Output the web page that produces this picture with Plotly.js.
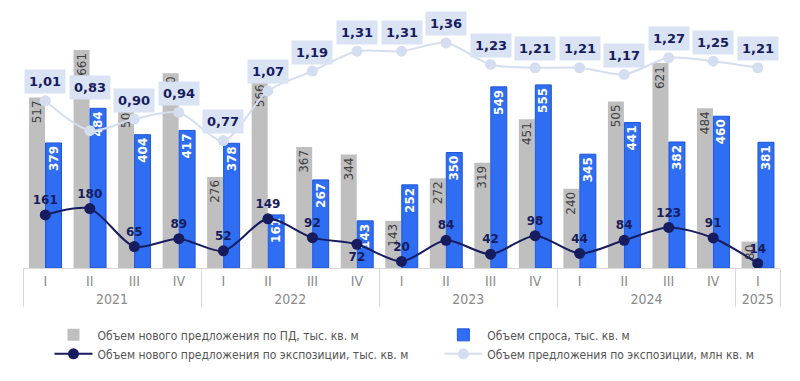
<!DOCTYPE html>
<html>
<head>
<meta charset="utf-8">
<script src="https://cdn.plot.ly/plotly-3.0.1.min.js"></script>
<style>html,body{margin:0;padding:0;background:#fff;}#chart{width:800px;height:381px;}</style>
</head>
<body>
<div id="chart"></div>
<script>
const years = ['2021','2021','2021','2021','2022','2022','2022','2022','2023','2023','2023','2023','2024','2024','2024','2024','2025'];
const quarters = ['I','II','III','IV','I','II','III','IV','I','II','III','IV','I','II','III','IV','I'];
const supplyPD = [517,661,503,590,276,566,367,344,143,272,319,451,240,505,621,484,80];
const demand = [379,484,404,417,378,161,267,143,252,350,549,555,345,441,382,460,381];
const newExpo = [161,180,65,89,52,149,92,72,20,84,42,98,44,84,123,91,14];
const expoStock = [1.01,0.83,0.90,0.94,0.77,1.07,1.19,1.31,1.31,1.36,1.23,1.21,1.21,1.17,1.27,1.25,1.21];
const seriesNames = [
  'Объем нового предложения по ПД, тыс. кв. м',
  'Объем спроса, тыс. кв. м',
  'Объем нового предложения по экспозиции, тыс. кв. м',
  'Объем предложения по экспозиции, млн кв. м'
];

const x = [years, quarters];
const navy = '#161c5e';
const lightLine = '#d5def0';
const fmt = v => v.toFixed(2).replace('.', ',');

const navyPos = newExpo.map((v, i) => i === 7 ? 'bottom center' : 'top center');
const stockShift = expoStock.map((v, i) => i === 1 ? 43 : 19);

const traces = [
  {
    type: 'bar', name: seriesNames[0], x: x, y: supplyPD,
    marker: {color: '#bfbfbf'},
    text: supplyPD.map(String), textposition: 'inside', insidetextanchor: 'end',
    textangle: -90, constraintext: 'none',
    textfont: {family: 'DejaVu Sans', size: 12, color: '#404040'},
    hoverinfo: 'skip', legend: 'legend', legendrank: 1
  },
  {
    type: 'bar', name: seriesNames[1], x: x, y: demand,
    marker: {color: '#2f6df2', line: {color: '#1f55d6', width: 1}},
    text: demand.map(String), textposition: 'inside', insidetextanchor: 'end',
    textangle: -90, constraintext: 'none',
    textfont: {family: 'DejaVu Sans', size: 12, color: '#ffffff', weight: 'bold'},
    hoverinfo: 'skip', legend: 'legend2', legendrank: 1
  },
  {
    type: 'scatter', mode: 'lines+markers', name: seriesNames[3], x: x, y: expoStock, yaxis: 'y2',
    line: {color: lightLine, width: 2, shape: 'spline', smoothing: 0.8},
    marker: {color: lightLine, size: 11},
    hoverinfo: 'skip', legend: 'legend2', legendrank: 2
  },
  {
    type: 'scatter', mode: 'lines+markers+text', name: seriesNames[2], x: x, y: newExpo,
    line: {color: navy, width: 2, shape: 'spline', smoothing: 0.8},
    marker: {color: navy, size: 11},
    text: newExpo.map(String), textposition: navyPos,
    textfont: {family: 'DejaVu Sans', size: 12, color: navy, weight: 'bold'},
    hoverinfo: 'skip', legend: 'legend', legendrank: 2
  }
];

const annotations = expoStock.map((v, i) => ({
  xref: 'x', yref: 'y2', x: i, y: v, text: '<b>' + fmt(v) + '</b>',
  showarrow: false, yshift: stockShift[i], bgcolor: '#dae3f3', borderpad: 4,
  font: {family: 'DejaVu Sans', size: 13, color: navy}
}));

const legendFont = {family: '"Liberation Sans Narrow", "Arial Narrow", "DejaVu Sans Condensed", sans-serif', size: 12, color: '#555'};
const legendBase = {
  orientation: 'v', xanchor: 'left', y: -0.203, yanchor: 'top',
  traceorder: 'normal', tracegroupgap: 0, itemwidth: 38, font: legendFont,
  bgcolor: 'rgba(0,0,0,0)'
};

const layout = {
  width: 800, height: 381,
  margin: {l: 23, r: 20, t: 10, b: 113},
  paper_bgcolor: '#fff', plot_bgcolor: '#fff',
  barmode: 'group', bargap: 0.26, bargroupgap: 0.03,
  showlegend: true,
  legend: Object.assign({}, legendBase, {x: 0.035}),
  legend2: Object.assign({}, legendBase, {x: 0.550}),
  xaxis: {
    type: 'multicategory', range: [-0.5, quarters.length - 0.5],
    showline: true, linecolor: '#d9d9d9', linewidth: 1,
    showdividers: true, dividercolor: '#d9d9d9', dividerwidth: 1,
    ticks: '', tickfont: {family: '"Liberation Sans Narrow", "Arial Narrow", "DejaVu Sans Condensed", sans-serif', size: 14, color: '#8a8a8a'},
    showgrid: false, zeroline: false
  },
  yaxis: {range: [0, 782], visible: false, showgrid: false, zeroline: false},
  yaxis2: {range: [0, 1.559], overlaying: 'y', visible: false, showgrid: false, zeroline: false},
  annotations: annotations
};

Plotly.newPlot('chart', traces, layout, {staticPlot: true, displayModeBar: false});
</script>
</body>
</html>
